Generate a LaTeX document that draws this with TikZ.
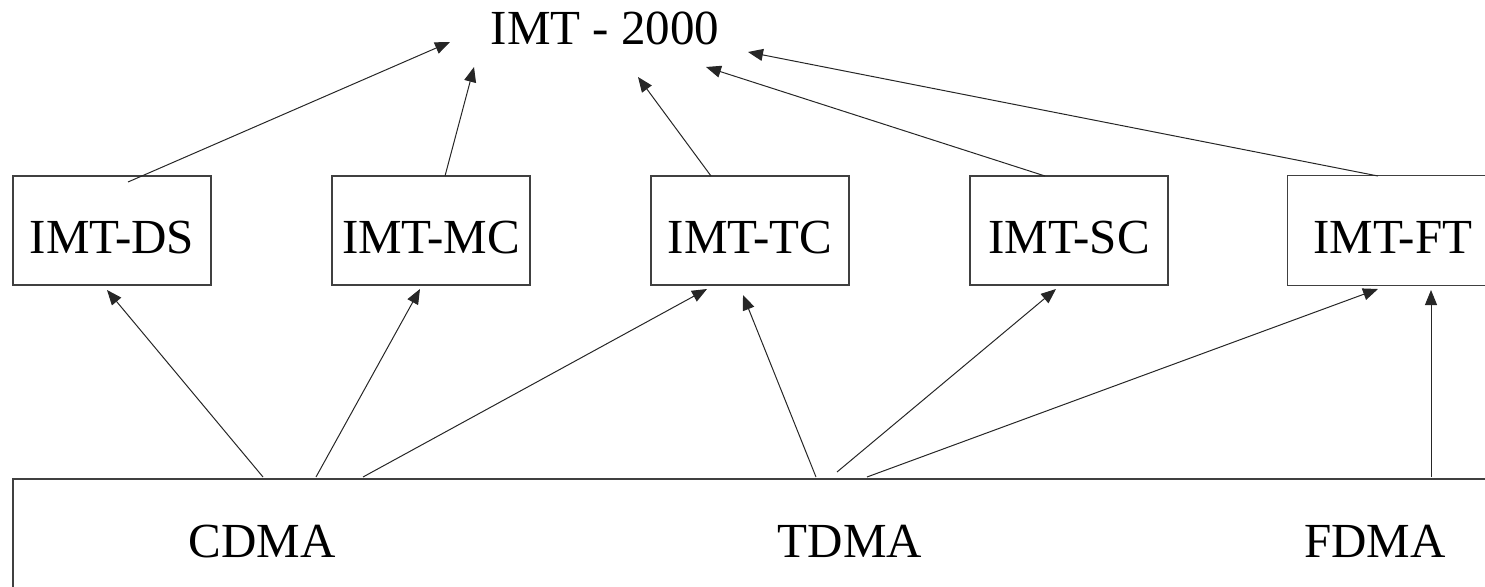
\documentclass[tikz,border=0pt]{standalone}
\usepackage{fontspec}
\setmainfont{Liberation Serif}
\usetikzlibrary{arrows.meta}

\begin{document}
\begin{tikzpicture}[x=1pt,y=-1pt]
            \tikzstyle{imtbox}=[draw=black!75, line width=1.4pt, minimum width=198pt, minimum height=109pt, inner sep=0pt, text height=45pt, text depth=0pt, font=\fontsize{49}{58}\selectfont]
            \tikzstyle{tech}=[anchor=base, inner sep=0pt, font=\fontsize{49}{58}\selectfont]
            \tikzstyle{frame}=[draw=black!75, line width=1.4pt]
            \tikzstyle{link}=[line width=1pt, black!85, -{Triangle[length=15pt,width=12pt]}]

            \useasboundingbox (0,0) rectangle (1485,586);
            \clip (0,0) rectangle (1485,586);

            % title
            \node[tech] (imt) at (605,45) {IMT - 2000};

            % radio interfaces
            \node[imtbox] (ds) at (112,230.5) {IMT-DS};
            \node[imtbox] (mc) at (431,230.5) {IMT-MC};
            \node[imtbox] (tc) at (750,230.5) {IMT-TC};
            \node[imtbox] (sc) at (1069,230.5) {IMT-SC};
            \node[imtbox, draw=none, minimum width=210pt] (ft) at (1393,230.5) {IMT-FT};
            \draw[frame] (ft.north east) -- (ft.north west) -- (ft.south west) -- (ft.south east);

            % access techniques
            \node[anchor=north west, minimum width=1520pt, minimum height=140pt] (base) at (13,479) {};
            \draw[frame] (base.north east) -- (base.north west) -- (base.south west);
            \node[tech] (cdma) at (262,557) {CDMA};
            \node[tech] (tdma) at (850,557) {TDMA};
            \node[tech] (fdma) at (1375,557) {FDMA};

            % tips below the title
            \coordinate (imt1) at (450,42);
            \coordinate (imt2) at (474,67);
            \coordinate (imt3) at (638,77);
            \coordinate (imt4) at (706,67);
            \coordinate (imt5) at (748,52);

            % box tops
            \coordinate (dsout) at (128,182);
            \coordinate (mcout) at (445,176);
            \coordinate (tcout) at (711,176);
            \coordinate (scout) at (1045,176);
            \coordinate (ftout) at (1378,176);

            % box bottoms
            \coordinate (dsin) at (107,290);
            \coordinate (mcin) at (420,289);
            \coordinate (tcin1) at (707,289);
            \coordinate (tcin2) at (743,295);
            \coordinate (scin) at (1056,289);
            \coordinate (ftin1) at (1378,289);
            \coordinate (ftin2) at (1431,290);

            % base top
            \coordinate (c1) at (263,477);
            \coordinate (c2) at (316,477);
            \coordinate (c3) at (363,477);
            \coordinate (t1) at (816,477);
            \coordinate (t2) at (837,472);
            \coordinate (t3) at (867,477);
            \coordinate (f1) at (1431,477);

            % up to IMT-2000
            \draw[link] (dsout) -- (imt1);
            \draw[link] (mcout) -- (imt2);
            \draw[link] (tcout) -- (imt3);
            \draw[link] (scout) -- (imt4);
            \draw[link] (ftout) -- (imt5);

            % up to the boxes
            \draw[link] (c1) -- (dsin);
            \draw[link] (c2) -- (mcin);
            \draw[link] (c3) -- (tcin1);
            \draw[link] (t1) -- (tcin2);
            \draw[link] (t2) -- (scin);
            \draw[link] (t3) -- (ftin1);
            \draw[link] (f1) -- (ftin2);
        \end{tikzpicture}
\end{document}
